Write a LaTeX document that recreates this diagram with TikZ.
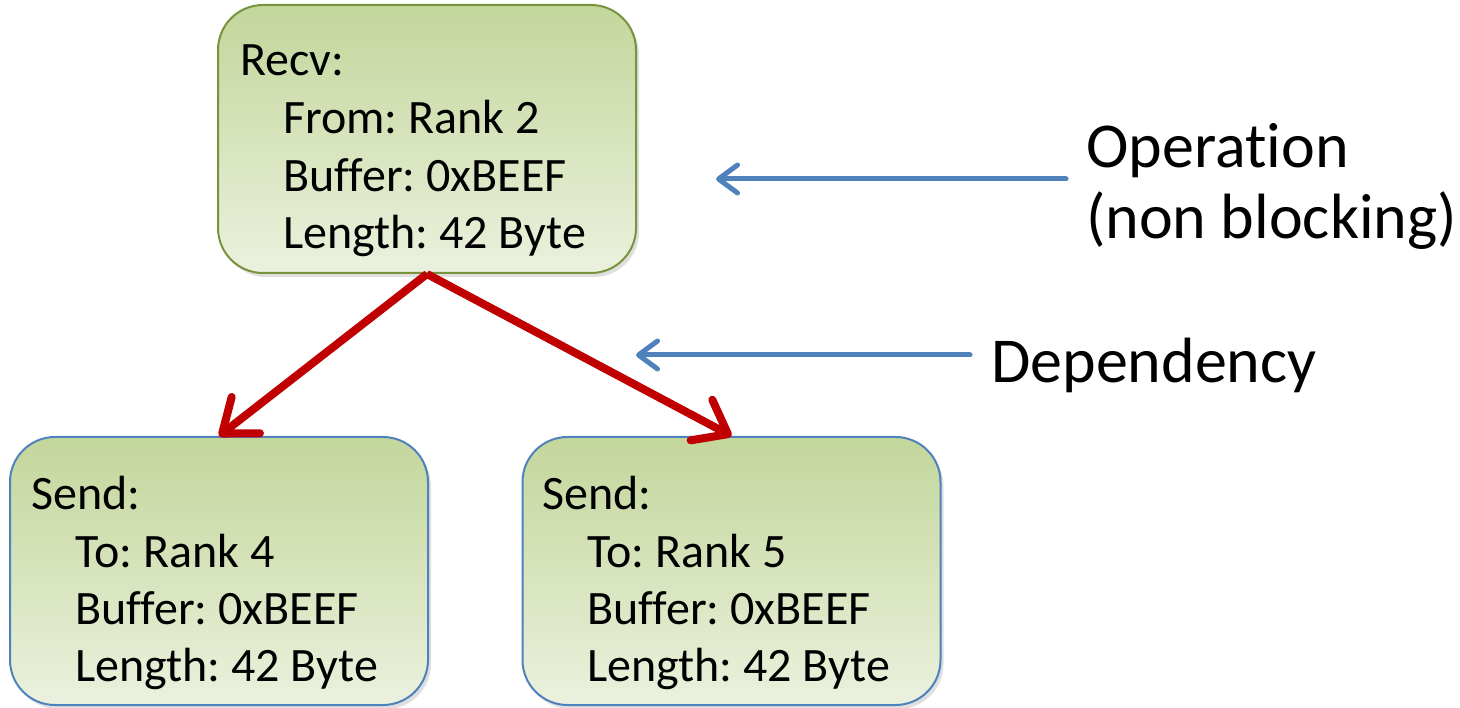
\documentclass[tikz,border=0pt]{standalone}
\usepackage{fontspec}
\setmainfont{Carlito}[Ligatures={NoCommon}]
\usetikzlibrary{arrows.meta,shadows}
\definecolor{boxtop}{RGB}{195,214,155}
\definecolor{boxbot}{RGB}{235,241,222}
\definecolor{greenline}{RGB}{119,147,60}
\definecolor{blueline}{RGB}{79,129,189}
\definecolor{redline}{RGB}{192,0,0}
\frenchspacing
\begin{document}
\begin{tikzpicture}[x=1pt,y=-1pt,
  opbox/.style={rectangle, rounded corners=45pt, top color=boxtop, bottom color=boxbot,
    line width=2pt, minimum width=418pt, minimum height=268pt, inner sep=0pt,
    drop shadow={shadow xshift=3pt,shadow yshift=-4pt,opacity=0.25}},
  txt/.style={anchor=base west, inner sep=0pt, font=\fontsize{48}{58}\selectfont},
  lbl/.style={anchor=base west, inner sep=0pt, font=\fontsize{64}{76}\selectfont},
  deparrow/.style={draw=redline, line width=8pt, -{Straight Barb[length=30pt,width=46pt,round]}},
  notearrow/.style={draw=blueline, line width=5pt, line cap=round, -{Straight Barb[length=19pt,width=28pt,round]}}
]
\useasboundingbox (0,0) rectangle (1460,708);

% boxes
\node[opbox, draw=greenline] (recv) at (427,139) {};
\node[opbox, draw=blueline] (send4) at (219,571) {};
\node[opbox, draw=blueline] (send5) at (731.5,571) {};

% texts of top box
\node[txt] (recvT) at (240,76) {Recv:};
\node[txt] (recvA) at (283,134) {From: Rank 2};
\node[txt] (recvB) at (283,192) {Buffer: 0xBEEF};
\node[txt] (recvC) at (283,249) {Length: 42 Byte};

% texts of bottom-left box
\node[txt] (s4T) at (31,509) {Send:};
\node[txt] (s4A) at (75,567) {To: Rank 4};
\node[txt] (s4B) at (75,624) {Buffer: 0xBEEF};
\node[txt] (s4C) at (75,681) {Length: 42 Byte};

% texts of bottom-right box
\node[txt] (s5T) at (542,509) {Send:};
\node[txt] (s5A) at (587,567) {To: Rank 5};
\node[txt] (s5B) at (587,624) {Buffer: 0xBEEF};
\node[txt] (s5C) at (587,681) {Length: 42 Byte};

% dependencies
\draw[deparrow] (recv.south) -- (send4.north);
\draw[deparrow] (recv.south) -- (send5.north);

% legend labels
\node[lbl] (op) at (1086,168) {Operation};
\node[lbl] (opnb) at (1086,239) {(non blocking)};
\node[lbl] (dep) at (991,383) {Dependency};

\coordinate (optail) at (1066,179);
\coordinate (optip) at (716,179);
\coordinate (deptail) at (970,355);
\coordinate (deptip) at (636,355);
\draw[notearrow] (optail) -- (optip);
\draw[notearrow] (deptail) -- (deptip);
\end{tikzpicture}
\end{document}
